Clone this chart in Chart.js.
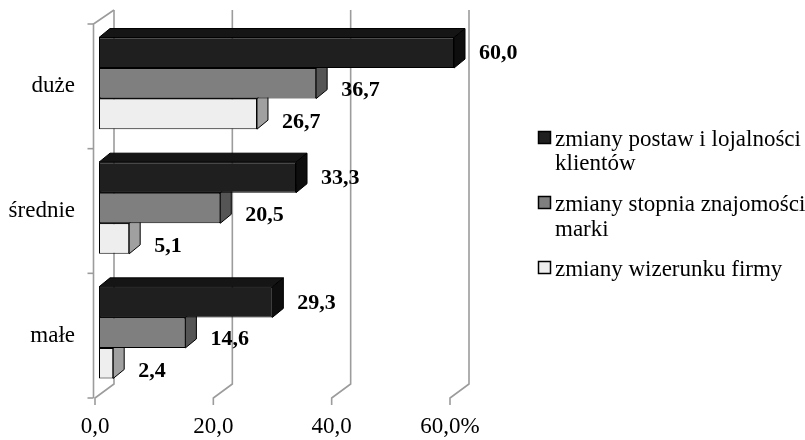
<!DOCTYPE html>
<html>
<head>
<meta charset="utf-8">
<script src="https://cdn.jsdelivr.net/npm/chart.js@4.4.1/dist/chart.umd.min.js"></script>
<style>
  html, body { margin: 0; padding: 0; background: #ffffff; }
  #c { display: block; }
</style>
</head>
<body>
<canvas id="c" width="805" height="440"></canvas>
<script>
// Company size groups and the three kinds of change (percent of answers)
const categories = ['duże', 'średnie', 'małe'];
const seriesNames = [
  ['zmiany postaw i lojalności', 'klientów'],
  ['zmiany stopnia znajomości', 'marki'],
  ['zmiany wizerunku firmy']
];
const postawValues = [60.0, 33.3, 29.3];
const stopienValues = [36.7, 20.5, 14.6];
const wizerunekValues = [26.7, 5.1, 2.4];
const tickValues = [0, 20, 40, 60];
const tickLabels = ['0,0', '20,0', '40,0', '60,0%'];

const SERIF = '"Liberation Serif", "Times New Roman", Times, serif';
const frontColors = ['#1f1f1f', '#7f7f7f', '#eeeeee'];
const sideColors = ['#0e0e0e', '#555555', '#a0a0a0'];
const topColors = ['#151515', '#5e5e5e', '#b4b4b4'];
const labelShiftY = [1, 7, 8];

// oblique projection offsets
const FRONT = { dx: 4, dy: -3 };   // bar front face, set back from the floor edge
const DEPTH = { dx: 11, dy: -9 };  // bar thickness in depth
const WALL = { dx: 19, dy: -14 };  // back wall

function fmt(v) { return v.toFixed(1).replace('.', ','); }

function poly(ctx, pts, fill) {
  ctx.beginPath();
  ctx.moveTo(pts[0][0], pts[0][1]);
  for (let i = 1; i < pts.length; i++) ctx.lineTo(pts[i][0], pts[i][1]);
  ctx.closePath();
  ctx.fillStyle = fill;
  ctx.fill();
  ctx.stroke();
}

const box3d = {
  id: 'box3d',
  beforeDatasetsDraw(chart) {
    const { ctx, chartArea: a, scales: { x } } = chart;
    ctx.save();
    // back wall grid lines running down onto the floor
    ctx.strokeStyle = '#9c9c9c';
    ctx.lineWidth = 1.6;
    tickValues.forEach(v => {
      const px = x.getPixelForValue(v);
      ctx.beginPath();
      ctx.moveTo(px + WALL.dx, a.top + WALL.dy);
      ctx.lineTo(px + WALL.dx, a.bottom + WALL.dy);
      ctx.lineTo(px, a.bottom);
      ctx.lineTo(px, a.bottom + 7);
      ctx.stroke();
    });
    // left wall
    const lx = a.left - 1.5;
    ctx.beginPath();
    ctx.moveTo(a.left + WALL.dx, a.top + WALL.dy);
    ctx.lineTo(lx, a.top);
    ctx.lineTo(lx, a.bottom);
    ctx.stroke();
    const band = (a.bottom - a.top) / categories.length;
    for (let i = 0; i <= categories.length; i++) {
      const ty = a.top + i * band;
      ctx.beginPath();
      ctx.moveTo(lx - 6, ty);
      ctx.lineTo(lx, ty);
      ctx.stroke();
    }
    ctx.restore();

    // depth faces of the bars, then leave the front offset in place for the bar fronts
    ctx.save();
    ctx.translate(FRONT.dx, FRONT.dy);
    ctx.strokeStyle = '#000';
    ctx.lineWidth = 1;
    chart.data.datasets.forEach((ds, i) => {
      chart.getDatasetMeta(i).data.forEach(el => {
        const x0 = el.base, x1 = el.x;
        const t = el.y - el.height / 2, b = el.y + el.height / 2;
        poly(ctx, [[x0, t], [x0 + DEPTH.dx, t + DEPTH.dy], [x1 + DEPTH.dx, t + DEPTH.dy], [x1, t]], topColors[i]);
        poly(ctx, [[x1, t], [x1 + DEPTH.dx, t + DEPTH.dy], [x1 + DEPTH.dx, b + DEPTH.dy], [x1, b]], sideColors[i]);
      });
    });
  },
  afterDatasetsDraw(chart) {
    const { ctx } = chart;
    ctx.restore();
    // value labels
    ctx.save();
    ctx.fillStyle = '#000';
    ctx.font = 'bold 22px ' + SERIF;
    ctx.textAlign = 'left';
    ctx.textBaseline = 'middle';
    chart.data.datasets.forEach((ds, i) => {
      chart.getDatasetMeta(i).data.forEach((el, j) => {
        const tx = el.x + FRONT.dx + DEPTH.dx + 14;
        const ty = el.y + FRONT.dy + labelShiftY[i];
        ctx.fillText(fmt(ds.data[j]), tx, ty);
      });
    });
    ctx.restore();
  },
  afterDraw(chart) {
    // legend on the right
    const { ctx } = chart;
    ctx.save();
    ctx.font = '23px ' + SERIF;
    ctx.textBaseline = 'alphabetic';
    ctx.textAlign = 'left';
    const baselines = [[146, 170], [211, 236], [276]];
    chart.data.datasets.forEach((ds, i) => {
      const lines = seriesNames[i];
      const by = baselines[i][0];
      ctx.fillStyle = frontColors[i];
      ctx.fillRect(538.5, by - 14.5, 12, 12);
      ctx.strokeStyle = '#000';
      ctx.lineWidth = 1.5;
      ctx.strokeRect(538.5, by - 14.5, 12, 12);
      ctx.fillStyle = '#000';
      lines.forEach((ln, k) => ctx.fillText(ln, 555, baselines[i][k]));
    });
    ctx.restore();
  }
};

const datasets = [postawValues, stopienValues, wizerunekValues].map((vals, i) => ({
  label: seriesNames[i].join(' '),
  data: vals,
  backgroundColor: frontColors[i],
  borderColor: '#000',
  borderWidth: 1,
  borderSkipped: false,
  categoryPercentage: 0.735,
  barPercentage: 1.0,
  clip: false
}));

new Chart(document.getElementById('c'), {
  type: 'bar',
  data: { labels: categories, datasets },
  plugins: [box3d],
  options: {
    responsive: false,
    animation: false,
    indexAxis: 'y',
    devicePixelRatio: 1,
    layout: { padding: { left: 0, right: 355, top: 24, bottom: 0 } },
    plugins: { legend: { display: false }, tooltip: { enabled: false } },
    scales: {
      x: {
        min: 0, max: 60,
        afterBuildTicks: s => { s.ticks = tickValues.map(v => ({ value: v })); },
        ticks: {
          callback: v => tickLabels[tickValues.indexOf(v)],
          font: { family: SERIF, size: 23 },
          color: '#000',
          padding: 15,
          maxRotation: 0,
          autoSkip: false
        },
        grid: { display: false, drawTicks: false },
        border: { display: false },
        afterFit: s => { s.height = 42; }
      },
      y: {
        ticks: { font: { family: SERIF, size: 23 }, color: '#000', padding: 20 },
        grid: { display: false, drawTicks: false },
        border: { display: false },
        afterFit: s => { s.width = 95; s.paddingTop = 0; s.paddingBottom = 0; }
      }
    }
  }
});
</script>
</body>
</html>
